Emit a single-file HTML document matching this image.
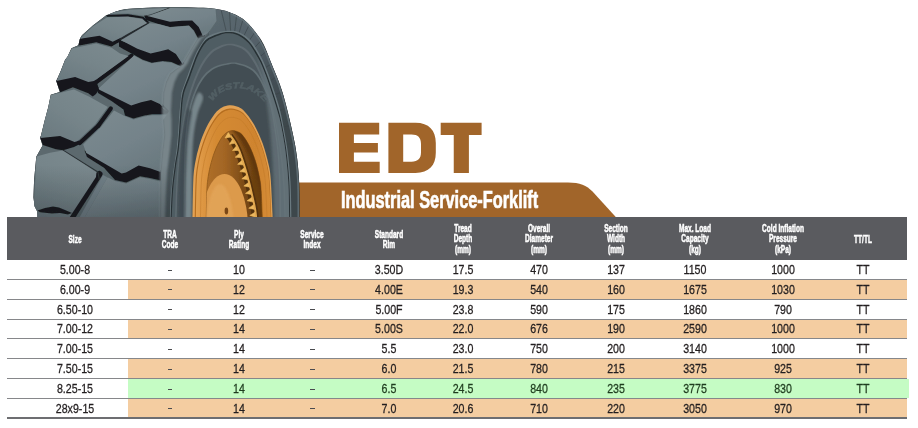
<!DOCTYPE html>
<html lang="en"><head><meta charset="utf-8"><title>EDT Industrial Service-Forklift</title>
<style>
html,body{margin:0;padding:0;background:#fff;overflow:hidden;}
body{width:918px;height:428px;position:relative;overflow:hidden;font-family:"Liberation Sans",sans-serif;}
#art{position:absolute;left:0;top:0;width:918px;height:428px;display:block;}
.hdr{position:absolute;left:7.0px;top:217.0px;width:900.0px;height:42.60000000000002px;background:#5a5b5f;}
.h{position:absolute;width:80px;margin-left:-40px;text-align:center;color:#fff;font-weight:bold;font-size:10.3px;line-height:10.6px;transform:scaleX(0.635);transform-origin:50% 50%;white-space:nowrap;-webkit-text-stroke:0.5px #fff;}
.ttl{position:absolute;left:341.2px;top:188.2px;color:#fff;font-weight:bold;font-size:23px;line-height:24px;white-space:nowrap;transform:scaleX(0.711);transform-origin:0 50%;-webkit-text-stroke:0.7px #fff;}
.d{position:absolute;width:80px;margin-left:-40px;text-align:center;color:#231f20;font-size:13.3px;line-height:16px;height:16px;transform:scaleX(0.8);transform-origin:50% 50%;white-space:nowrap;-webkit-text-stroke:0.3px #231f20;}
.ln{position:absolute;left:7.0px;width:900.0px;height:1.1px;background:#86878a;}
.bg{position:absolute;left:127.8px;width:779.2px;}
.dash{position:absolute;width:4.6px;height:1.3px;margin-left:-2.3px;background:#4a4b4f;}
</style></head><body>
<svg id="art" viewBox="0 0 918 428" width="918" height="428">
<defs>
<linearGradient id="gFace" x1="0.1" y1="0" x2="0.8" y2="1">
 <stop offset="0" stop-color="#7c8a8f"/><stop offset="0.55" stop-color="#74838a"/><stop offset="1" stop-color="#69787e"/>
</linearGradient>
<linearGradient id="gFaceL" x1="0.9" y1="0" x2="0.1" y2="1">
 <stop offset="0" stop-color="#7c8a8f"/><stop offset="0.5" stop-color="#76858a"/><stop offset="1" stop-color="#6a797f"/>
</linearGradient>
<linearGradient id="gShoulder" gradientUnits="userSpaceOnUse" x1="160" y1="0" x2="185" y2="0">
 <stop offset="0" stop-color="#6a7a80"/><stop offset="1" stop-color="#4b585d"/>
</linearGradient>
<linearGradient id="gRim" gradientUnits="userSpaceOnUse" x1="192" y1="0" x2="272" y2="0">
 <stop offset="0" stop-color="#e6a656"/><stop offset="0.14" stop-color="#dd9642"/><stop offset="0.3" stop-color="#d48a33"/><stop offset="0.8" stop-color="#cf842f"/><stop offset="1" stop-color="#d68d38"/>
</linearGradient>
<linearGradient id="gWell" gradientUnits="userSpaceOnUse" x1="205" y1="0" x2="255" y2="0">
 <stop offset="0" stop-color="#b0702a"/><stop offset="0.4" stop-color="#a26524"/><stop offset="0.75" stop-color="#7d4c16"/><stop offset="1" stop-color="#6a3f10"/>
</linearGradient>
<linearGradient id="gOuter" gradientUnits="userSpaceOnUse" x1="215" y1="5" x2="285" y2="125">
 <stop offset="0" stop-color="#5c6970"/><stop offset="0.35" stop-color="#55626a"/><stop offset="0.65" stop-color="#444f55"/><stop offset="1" stop-color="#3d474c"/>
</linearGradient>
<linearGradient id="gBot" x1="0" y1="0" x2="0" y2="1">
 <stop offset="0" stop-color="#1c2225" stop-opacity="0"/><stop offset="1" stop-color="#1c2225" stop-opacity="0.32"/>
</linearGradient>
<filter id="b0" x="-5%" y="-5%" width="110%" height="110%"><feGaussianBlur stdDeviation="0.6"/></filter>
<filter id="b1" x="-5%" y="-5%" width="110%" height="110%"><feGaussianBlur stdDeviation="0.8"/></filter>
<filter id="b2" x="-10%" y="-10%" width="120%" height="120%"><feGaussianBlur stdDeviation="1.6"/></filter>
<clipPath id="cTop"><rect x="0" y="0" width="918" height="217.2"/></clipPath>
</defs>
<path d="M290 182.5 L568 182.5 C580 182.5 586.5 185.5 592.5 191.5 L616 217.2 L290 217.2 Z" fill="#a1652a"/>
<g clip-path="url(#cTop)"><g filter="url(#b0)">
<clipPath id="cSil"><path d="M37.6 222.0 L37.3 211.5 L34.6 206.3 L33.5 197.5 L34.1 180.0 L36.3 156.8 L42.6 145.5 L40.3 138.3 L44.8 120.0 L48.3 107.0 L50.8 94.8 L59.8 92.0 L56.3 81.0 L60.7 71.0 L65.0 60.0 L67.6 56.5 L71.5 48.3 L78.4 45.3 L80.0 38.6 L82.0 35.2 L92.9 25.4 L106.0 15.5 L117.0 11.1 L117.0 11.1 C119.2 10.7 121.2 9.3 130.0 8.7 C138.8 8.1 156.2 7.3 170.0 7.3 C183.8 7.3 202.2 7.5 212.5 8.5 C222.8 9.5 226.5 11.2 232.0 13.3 C237.5 15.4 241.4 17.7 245.4 20.9 C249.4 24.1 252.9 28.8 255.9 32.7 C258.9 36.6 261.0 39.1 263.7 44.5 C266.4 49.9 269.3 58.2 272.0 65.0 C274.7 71.8 277.7 78.3 280.0 85.0 C282.3 91.7 283.5 95.1 286.0 105.0 C288.5 114.9 292.8 132.1 295.0 144.5 C297.2 156.9 298.2 166.6 299.0 179.5 C299.8 192.4 299.4 214.9 299.5 222.0 Z"/></clipPath>
<path d="M37.6 222.0 L37.3 211.5 L34.6 206.3 L33.5 197.5 L34.1 180.0 L36.3 156.8 L42.6 145.5 L40.3 138.3 L44.8 120.0 L48.3 107.0 L50.8 94.8 L59.8 92.0 L56.3 81.0 L60.7 71.0 L65.0 60.0 L67.6 56.5 L71.5 48.3 L78.4 45.3 L80.0 38.6 L82.0 35.2 L92.9 25.4 L106.0 15.5 L117.0 11.1 L117.0 11.1 C119.2 10.7 121.2 9.3 130.0 8.7 C138.8 8.1 156.2 7.3 170.0 7.3 C183.8 7.3 202.2 7.5 212.5 8.5 C222.8 9.5 226.5 11.2 232.0 13.3 C237.5 15.4 241.4 17.7 245.4 20.9 C249.4 24.1 252.9 28.8 255.9 32.7 C258.9 36.6 261.0 39.1 263.7 44.5 C266.4 49.9 269.3 58.2 272.0 65.0 C274.7 71.8 277.7 78.3 280.0 85.0 C282.3 91.7 283.5 95.1 286.0 105.0 C288.5 114.9 292.8 132.1 295.0 144.5 C297.2 156.9 298.2 166.6 299.0 179.5 C299.8 192.4 299.4 214.9 299.5 222.0 Z" fill="#15191b"/>
<g clip-path="url(#cSil)">
<path d="M165.0 222.0 C165.2 216.7 165.8 200.3 166.5 190.0 C167.2 179.7 167.9 169.2 169.0 160.0 C170.1 150.8 171.8 143.2 173.0 135.0 C174.2 126.8 175.2 118.2 176.0 111.0 C176.8 103.8 176.5 98.3 178.0 92.0 C179.5 85.7 182.8 78.7 185.0 73.0 C187.2 67.3 188.3 63.5 191.0 58.0 C193.7 52.5 197.2 46.3 201.0 40.0 C204.8 33.7 211.8 25.3 214.0 20.0 C216.2 14.7 211.5 9.2 214.5 8.0 C217.5 6.8 225.9 10.2 232.0 13.0 C238.1 15.8 245.8 19.7 251.0 25.0 C256.2 30.3 259.3 38.3 263.0 45.0 C266.7 51.7 270.0 58.3 273.0 65.0 C276.0 71.7 278.7 78.3 281.0 85.0 C283.3 91.7 284.5 95.1 287.0 105.0 C289.5 114.9 293.8 132.1 296.0 144.5 C298.2 156.9 299.2 166.6 300.0 179.5 C300.8 192.4 300.4 214.9 300.5 222.0 Z" fill="url(#gOuter)"/>
<path d="M226.8 33.8 L221.2 10.2" stroke="#3a4549" stroke-width="0.9" opacity="0.7"/>
<path d="M230.7 32.1 L229.3 8.1" stroke="#3a4549" stroke-width="0.9" opacity="0.7"/>
<path d="M234.6 32.4 L237.4 8.5" stroke="#3a4549" stroke-width="0.9" opacity="0.7"/>
<path d="M238.5 34.8 L245.4 11.4" stroke="#3a4549" stroke-width="0.9" opacity="0.7"/>
<path d="M242.3 39.1 L253.2 16.6" stroke="#3a4549" stroke-width="0.9" opacity="0.7"/>
<path d="M245.9 45.3 L260.6 24.0" stroke="#3a4549" stroke-width="0.9" opacity="0.7"/>
<path d="M249.2 53.3 L267.6 33.7" stroke="#3a4549" stroke-width="0.9" opacity="0.7"/>
<path d="M252.3 63.0 L273.9 45.3" stroke="#3a4549" stroke-width="0.9" opacity="0.7"/>
<path d="M255.0 74.2 L279.5 58.7" stroke="#3a4549" stroke-width="0.9" opacity="0.7"/>
<path d="M257.3 86.6 L284.3 73.7" stroke="#3a4549" stroke-width="0.9" opacity="0.7"/>
<path d="M259.2 100.1 L288.2 90.0" stroke="#3a4549" stroke-width="0.9" opacity="0.7"/>
<path d="M260.6 114.5 L291.1 107.3" stroke="#3a4549" stroke-width="0.9" opacity="0.7"/>
<path d="M261.5 129.5 L293.1 125.3" stroke="#3a4549" stroke-width="0.9" opacity="0.7"/>
<path d="M262.0 144.9 L293.9 143.8" stroke="#3a4549" stroke-width="0.9" opacity="0.7"/>
<path d="M169.0 222.0 C169.2 216.7 169.8 199.5 170.5 190.0 C171.2 180.5 172.6 171.7 173.5 165.0 C174.4 158.3 175.3 155.0 176.0 150.0 C176.7 145.0 176.9 141.5 177.4 135.0 C177.9 128.5 178.4 118.1 179.0 111.0 C179.6 103.9 179.6 98.6 181.0 92.4 C182.4 86.2 186.1 78.1 187.7 73.7 C189.3 69.3 189.2 69.3 190.5 65.8 C191.8 62.3 193.2 57.2 195.5 52.7 C197.8 48.2 200.5 42.3 204.0 39.0 C207.5 35.7 212.3 34.1 216.6 32.7 C220.9 31.3 225.8 30.8 229.7 30.8 C233.6 30.8 236.7 31.1 240.2 32.7 C243.7 34.3 247.6 37.3 250.7 40.6 C253.8 43.9 256.3 48.6 258.5 52.3 C260.7 56.0 262.2 58.9 264.0 63.0 C265.8 67.1 267.7 72.1 269.5 77.0 C271.3 81.9 273.0 87.3 274.7 92.5 C276.4 97.7 278.1 102.8 279.5 108.0 C280.9 113.2 281.7 117.0 283.0 124.0 C284.3 131.0 286.2 140.3 287.5 150.0 C288.8 159.7 289.8 170.0 290.5 182.0 C291.2 194.0 291.3 215.3 291.5 222.0 Z" fill="#6a797f"/>
<path d="M170.4 222.0 C170.7 216.7 171.2 199.5 171.9 190.0 C172.7 180.5 174.0 171.7 174.9 165.0 C175.8 158.3 176.8 155.0 177.4 150.0 C178.1 145.0 178.3 141.3 178.8 135.0 C179.3 128.7 179.8 119.2 180.4 112.3 C181.0 105.4 181.0 99.9 182.4 93.7 C183.8 87.5 187.5 79.4 189.1 75.0 C190.7 70.6 190.6 70.6 191.9 67.1 C193.2 63.6 194.7 58.5 196.9 54.0 C199.2 49.5 201.9 43.6 205.4 40.3 C208.9 37.0 214.2 35.4 218.0 34.0 C221.8 32.6 225.0 32.1 228.5 32.1 C232.0 32.1 235.5 32.4 239.0 34.0 C242.5 35.6 246.4 38.6 249.5 41.9 C252.6 45.2 255.1 49.9 257.3 53.6 C259.5 57.3 261.0 60.2 262.8 64.3 C264.6 68.4 266.5 73.4 268.3 78.3 C270.1 83.2 271.8 88.6 273.5 93.8 C275.2 99.0 276.9 104.3 278.3 109.3 C279.7 114.3 280.5 117.2 281.8 124.0 C283.1 130.8 285.1 140.3 286.3 150.0 C287.6 159.7 288.6 170.0 289.3 182.0 C290.0 194.0 290.1 215.3 290.3 222.0 Z" fill="#283034"/>
<path d="M171.6 222.0 C171.8 216.7 172.3 199.5 173.1 190.0 C173.8 180.5 175.2 171.7 176.1 165.0 C177.0 158.3 177.9 155.0 178.6 150.0 C179.2 145.0 179.5 141.1 180.0 135.0 C180.5 128.9 181.0 120.2 181.6 113.5 C182.2 106.8 182.2 101.1 183.6 94.9 C185.0 88.7 188.7 80.6 190.3 76.2 C191.9 71.8 191.8 71.8 193.1 68.3 C194.4 64.8 195.8 59.7 198.1 55.2 C200.3 50.7 203.1 44.8 206.6 41.5 C210.1 38.2 215.7 36.6 219.2 35.2 C222.7 33.8 224.4 33.3 227.5 33.3 C230.6 33.3 234.5 33.6 238.0 35.2 C241.5 36.8 245.4 39.8 248.5 43.1 C251.6 46.4 254.1 51.1 256.3 54.8 C258.5 58.5 260.0 61.4 261.8 65.5 C263.6 69.6 265.5 74.6 267.3 79.5 C269.1 84.4 270.8 89.8 272.5 95.0 C274.2 100.2 275.9 105.7 277.3 110.5 C278.7 115.3 279.5 117.4 280.8 124.0 C282.1 130.6 284.1 140.3 285.3 150.0 C286.6 159.7 287.6 170.0 288.3 182.0 C289.0 194.0 289.1 215.3 289.3 222.0 Z" fill="#505d63"/>
<path d="M175.0 222.0 C175.2 216.7 175.5 200.3 176.0 190.0 C176.5 179.7 177.1 170.0 178.0 160.0 C178.9 150.0 180.2 139.2 181.5 130.0 C182.8 120.8 184.2 112.5 186.0 105.0 C187.8 97.5 189.7 91.5 192.0 85.0 C194.3 78.5 197.0 71.5 200.0 66.0 C203.0 60.5 206.3 55.5 210.0 52.0 C213.7 48.5 218.0 46.3 222.0 45.0 C226.0 43.7 230.0 43.3 234.0 44.0 C238.0 44.7 242.3 46.0 246.0 49.0 C249.7 52.0 253.0 56.8 256.0 62.0 C259.0 67.2 261.5 73.7 264.0 80.0 C266.5 86.3 268.8 92.5 271.0 100.0 C273.2 107.5 275.1 115.0 277.0 125.0 C278.9 135.0 281.2 149.2 282.5 160.0 C283.8 170.8 284.4 179.7 285.0 190.0 C285.6 200.3 285.8 216.7 286.0 222.0 Z" fill="#5e6b71"/>
<path d="M176.5 222.0 C176.7 216.7 177.0 200.3 177.5 190.0 C178.0 179.7 178.6 170.0 179.5 160.0 C180.4 150.0 181.7 138.9 183.0 130.0 C184.3 121.1 185.8 113.8 187.5 106.5 C189.2 99.2 191.2 93.0 193.5 86.5 C195.8 80.0 198.5 73.0 201.5 67.5 C204.5 62.0 207.8 57.0 211.5 53.5 C215.2 50.0 220.0 47.8 223.5 46.5 C227.0 45.2 229.0 44.8 232.5 45.5 C236.0 46.2 240.8 47.5 244.5 50.5 C248.2 53.5 251.5 58.3 254.5 63.5 C257.5 68.7 260.0 75.2 262.5 81.5 C265.0 87.8 267.3 94.2 269.5 101.5 C271.7 108.8 273.6 115.2 275.5 125.0 C277.4 134.8 279.7 149.2 281.0 160.0 C282.3 170.8 282.9 179.7 283.5 190.0 C284.1 200.3 284.3 216.7 284.5 222.0 Z" fill="#4d595f"/>
<path d="M183.5 222.0 C183.6 215.0 183.6 192.0 183.8 180.0 C184.0 168.0 184.1 159.2 184.5 150.0 C184.9 140.8 185.6 132.5 186.5 125.0 C187.4 117.5 188.4 111.2 190.0 105.0 C191.6 98.8 193.7 93.0 196.0 88.0 C198.3 83.0 201.0 78.5 204.0 75.0 C207.0 71.5 210.3 68.9 214.0 67.0 C217.7 65.1 222.0 64.2 226.0 63.5 C230.0 62.8 233.3 62.0 238.0 63.0 C242.7 64.0 249.6 66.0 254.0 69.8 C258.4 73.6 261.5 79.5 264.5 85.6 C267.5 91.7 269.7 95.9 272.0 106.6 C274.3 117.3 277.1 136.9 278.5 150.0 C279.9 163.1 280.1 173.0 280.5 185.0 C280.9 197.0 280.9 215.8 281.0 222.0 Z" fill="#626f75"/>
<path d="M184.8 222.0 C184.9 215.0 184.9 192.0 185.1 180.0 C185.3 168.0 185.4 159.2 185.8 150.0 C186.2 140.8 186.9 132.3 187.8 125.0 C188.7 117.7 189.7 112.2 191.3 106.3 C192.9 100.3 195.0 94.3 197.3 89.3 C199.6 84.3 202.3 79.8 205.3 76.3 C208.3 72.8 211.6 70.2 215.3 68.3 C219.0 66.4 223.7 65.5 227.3 64.8 C230.9 64.1 232.5 63.2 236.7 64.3 C240.9 65.3 248.3 67.3 252.7 71.1 C257.1 74.9 260.2 80.8 263.2 86.9 C266.2 93.0 268.4 97.4 270.7 107.9 C273.0 118.4 275.8 137.2 277.2 150.0 C278.6 162.8 278.8 173.0 279.2 185.0 C279.6 197.0 279.6 215.8 279.7 222.0 Z" fill="#434e53"/>
<path d="M184.6 222.0 C184.7 215.0 184.8 192.0 185.0 180.0 C185.2 168.0 185.3 159.0 185.8 150.0 C186.3 141.0 187.0 133.0 188.0 126.0 C189.0 119.0 190.3 113.5 192.0 108.0 C193.7 102.5 196.2 94.7 198.0 93.0 C199.8 91.3 203.1 94.5 203.0 98.0 C202.9 101.5 199.0 108.3 197.5 114.0 C196.0 119.7 194.8 125.7 194.0 132.0 C193.2 138.3 192.8 144.0 192.5 152.0 C192.2 160.0 192.1 168.3 192.0 180.0 C191.9 191.7 191.8 215.0 191.8 222.0 Z" fill="#7a898f" opacity="0.95" filter="url(#b1)"/>
<path id="tp" d="M212.5 102 C217.5 92.5 227 88.2 238.5 88.2 C251 88.2 261 96 268.5 108" fill="none"/>
<text font-family="Liberation Sans, sans-serif" font-weight="bold" font-style="italic" font-size="8.6" fill="#5f6d73" stroke="#5f6d73" stroke-width="0.5" opacity="0.55" filter="url(#b0)"><textPath href="#tp" startOffset="0.5" textLength="61" lengthAdjust="spacingAndGlyphs">WESTLAKE</textPath></text>
<clipPath id="cRib"><path d="M171.6 222.0 C171.8 216.7 172.3 199.5 173.1 190.0 C173.8 180.5 175.2 171.7 176.1 165.0 C177.0 158.3 177.9 155.0 178.6 150.0 C179.2 145.0 179.5 141.1 180.0 135.0 C180.5 128.9 181.0 120.2 181.6 113.5 C182.2 106.8 182.2 101.1 183.6 94.9 C185.0 88.7 188.7 80.6 190.3 76.2 C191.9 71.8 191.8 71.8 193.1 68.3 C194.4 64.8 195.8 59.7 198.1 55.2 C200.3 50.7 203.1 44.8 206.6 41.5 C210.1 38.2 215.7 36.6 219.2 35.2 C222.7 33.8 224.4 33.3 227.5 33.3 C230.6 33.3 234.5 33.6 238.0 35.2 C241.5 36.8 245.4 39.8 248.5 43.1 C251.6 46.4 254.1 51.1 256.3 54.8 C258.5 58.5 260.0 61.4 261.8 65.5 C263.6 69.6 265.5 74.6 267.3 79.5 C269.1 84.4 270.8 89.8 272.5 95.0 C274.2 100.2 275.9 105.7 277.3 110.5 C278.7 115.3 279.5 117.4 280.8 124.0 C282.1 130.6 284.1 140.3 285.3 150.0 C286.6 159.7 287.6 170.0 288.3 182.0 C289.0 194.0 289.1 215.3 289.3 222.0 Z"/></clipPath>
<g clip-path="url(#cRib)"><path d="M258 55 L305 55 L305 222 L274 222 C274 160 270 105 258 55 Z" fill="#67767d" opacity="0.75" filter="url(#b2)"/></g>
<path d="M232.0 13.3 C234.2 14.6 241.4 17.7 245.4 20.9 C249.4 24.1 252.9 28.8 255.9 32.7 C258.9 36.6 261.0 39.1 263.7 44.5 C266.4 49.9 269.3 58.2 272.0 65.0 C274.7 71.8 277.7 78.3 280.0 85.0 C282.3 91.7 283.5 95.1 286.0 105.0 C288.5 114.9 292.8 132.1 295.0 144.5 C297.2 156.9 298.2 166.6 299.0 179.5 C299.8 192.4 299.4 214.9 299.5 222.0" fill="none" stroke="#6a7980" stroke-width="1.6" opacity="0.7" transform="translate(-1.2,0.3)"/>
<path d="M178 222 L179 180 L181.5 140 L187 108 L192 112 L187.5 142 L185.5 180 L185 222 Z" fill="#394348" opacity="0.55" filter="url(#b1)"/>
<path d="M30.0 222.0 L30.0 0.0 L216.5 0.0 L216.5 21.0 L208.5 35.0 L204.0 39.0 L195.5 52.7 L190.5 65.8 L187.7 73.7 L181.0 92.4 L179.0 111.0 L177.4 135.0 L176.0 150.0 L173.5 165.0 L170.5 190.0 L169.0 222.0 Z" fill="#5b696e"/>
<path d="M30.0 222.0 L30.0 0.0 L216.5 0.0 L216.5 21.0 L208.5 35.0 L204.0 39.0 L195.5 52.7 L190.5 65.8 L187.7 73.7 L181.0 92.4 L179.0 111.0 L177.4 135.0 L176.0 150.0 L173.5 165.0 L170.5 190.0 L169.0 222.0 Z" fill="none"/>
<path d="M210.0 31.0 L203.3 35.0 L197.5 38.5 L193.6 45.0 L190.0 51.0 L185.9 58.0 L182.4 64.0 L176.0 69.0 L170.0 73.7 L166.0 82.0 L163.4 92.4 L162.8 104.0 L162.4 111.0 L163.1 120.0 L164.3 135.0 L162.5 150.0 L160.5 172.0 L160.3 195.0 L160.0 222.0 L169.5 222.0 L170.8 195.0 L173.2 172.0 L176.5 150.0 L177.9 135.0 L178.9 120.0 L179.5 111.0 L180.3 104.0 L181.5 92.4 L185.2 82.0 L188.2 73.7 L189.9 69.0 L191.7 64.0 L194.0 58.0 L197.1 51.0 L200.8 45.0 L205.1 38.5 L209.0 35.0 L209.0 31.0 Z" fill="#4a565b"/>
<g filter="url(#b0)">
<path d="M143.0 13.0 L157.0 16.5 L170.0 19.5 L182.0 18.5 L194.0 18.5 L201.0 26.0 L205.0 36.0 L198.2 38.5 L194.0 30.6 L189.0 25.6 L182.0 26.0 L170.0 27.0 L157.0 23.6 L146.0 20.0 Z" fill="#15191b"/>
<path d="M106.0 15.0 L128.0 14.3 L143.4 16.8 L149.5 22.5 L147.0 23.5 L142.5 18.6 L128.0 16.4 L107.0 16.8 Z" fill="#15191b"/>
<path d="M78.4 39.0 L99.5 34.0 L112.7 40.0 L121.0 37.5 L121.0 41.5 L117.0 43.2 L111.6 46.6 L96.2 42.3 L82.0 45.0 L78.4 45.6 Z" fill="#15191b"/>
<path d="M119.0 40.0 L137.4 46.5 L150.6 51.5 L168.2 47.0 L177.0 52.0 L184.5 64.0 L180.3 66.0 L171.5 62.0 L162.7 61.0 L151.7 62.7 L142.9 59.8 L132.0 53.8 L124.0 49.5 L119.0 46.5 Z" fill="#15191b"/>
<path d="M55.5 79.0 L75.1 75.0 L88.3 80.0 L96.0 79.5 L99.0 89.5 L96.0 94.0 L92.7 96.4 L88.3 93.2 L72.9 87.2 L60.3 92.2 L56.0 81.5 Z" fill="#15191b"/>
<path d="M97.0 87.0 L117.0 96.5 L131.2 103.5 L151.0 98.0 L160.5 102.0 L169.0 111.0 L167.6 113.6 L160.9 114.2 L152.1 114.2 L144.4 115.4 L133.4 118.6 L125.0 115.4 L123.5 109.6 L111.5 100.9 L98.0 93.0 Z" fill="#15191b"/>
<path d="M39.5 136.0 L60.1 134.0 L74.5 140.0 L80.0 141.0 L80.0 144.0 L74.0 147.0 L63.0 150.3 L56.0 149.3 L42.8 145.0 Z" fill="#15191b"/>
<path d="M84.5 150.5 L104.0 161.3 L121.6 171.4 L138.6 163.6 L150.0 166.2 L161.0 170.5 L161.0 180.4 L150.0 178.0 L140.0 176.2 L126.2 182.5 L115.0 180.0 L104.0 167.8 L87.0 157.0 Z" fill="#15191b"/>
<path d="M37.5 210.6 L45.0 208.0 L53.0 206.4 L59.0 207.6 L65.0 210.0 L72.0 213.0 L68.0 214.5 L60.0 213.0 L52.0 213.4 L40.0 212.2 Z" fill="#15191b"/>
<path d="M148.4 22.8 L120.2 39.4" stroke="#262c2f" stroke-width="1.8" stroke-linecap="round"/>
<path d="M131.6 55.6 L95.6 82.6" stroke="#16191c" stroke-width="4.2" stroke-linecap="round"/>
<path d="M110.8 108.4 L98.3 125.7" stroke="#16191c" stroke-width="4.2" stroke-linecap="round"/>
<path d="M98.3 125.7 L79.8 143" stroke="#16191c" stroke-width="4.2" stroke-linecap="round"/>
<path d="M99.4 174 L71.4 218" stroke="#16191c" stroke-width="6.2" stroke-linecap="round"/>
<path d="M169 8 L148.5 16" stroke="#2f373a" stroke-width="1.3" stroke-linecap="round"/>
<path d="M103 175 L107.5 177.6 L82 222 L77 222 Z" fill="#73828a"/>
<path d="M62.7 150 L98 172 L99.4 180" fill="none" stroke="#2b3235" stroke-width="1.1"/>
</g>
<path d="M104.0 16.0 L112.5 12.5 L130.0 9.8 L168.0 8.0 L147.5 15.3 L143.5 15.8 L128.0 13.6 L108.0 14.0 Z" fill="url(#gFaceL)"/>
<path d="M150.0 15.3 L170.5 8.0 L184.0 8.2 L215.5 8.8 L216.5 21.0 L208.0 33.0 L202.8 36.0 L198.7 27.0 L192.2 20.6 L182.0 20.8 L170.0 21.8 L158.0 18.8 L146.5 15.8 Z" fill="url(#gFace)"/>
<path d="M80.3 38.8 L92.9 26.5 L107.2 17.2 L128.0 16.8 L142.0 19.0 L147.2 22.9 L125.9 34.5 L119.3 38.6 L112.7 41.8 L99.5 35.8 Z" fill="url(#gFaceL)"/>
<path d="M149.6 23.2 L158.0 24.0 L170.0 27.2 L182.0 26.2 L189.0 25.8 L193.5 30.7 L197.5 38.5 L190.0 51.0 L182.4 64.0 L175.9 54.1 L168.2 49.2 L159.4 51.4 L150.6 53.6 L137.4 48.7 L121.2 40.2 Z" fill="url(#gFace)"/>
<path d="M72.1 48.4 L96.2 43.4 L111.6 47.8 L120.0 53.5 L128.6 55.9 L94.0 80.9 L88.3 82.0 L75.1 77.0 L56.5 80.9 L61.0 71.0 L65.2 60.0 Z" fill="url(#gFaceL)"/>
<path d="M134.0 55.4 L142.9 60.4 L151.7 63.3 L162.7 61.7 L171.5 62.7 L180.3 66.5 L176.0 69.0 L170.0 73.7 L166.0 82.0 L163.4 92.4 L162.6 108.0 L167.4 111.6 L159.8 104.0 L151.0 100.1 L141.1 102.3 L131.2 105.6 L117.0 98.5 L99.4 89.7 L98.6 88.6 Z" fill="url(#gFace)"/>
<path d="M51.0 95.1 L74.0 89.6 L89.4 96.7 L107.8 107.0 L95.2 124.2 L77.2 141.2 L74.5 142.0 L60.1 136.1 L40.5 138.1 L44.8 120.0 L48.3 107.0 Z" fill="url(#gFaceL)"/>
<path d="M114.0 110.4 L124.0 115.7 L133.4 119.5 L144.4 116.5 L152.1 115.2 L160.9 115.2 L166.8 114.8 L163.2 120.0 L164.3 135.0 L162.5 150.0 L160.5 172.0 L150.0 168.2 L138.6 165.6 L126.0 172.5 L121.6 173.4 L104.0 163.3 L86.3 153.1 L83.2 144.6 L100.8 127.2 Z" fill="url(#gFace)"/>
<path d="M107.5 177.6 L108.5 177.8 L115.0 181.0 L126.2 183.5 L140.0 177.2 L150.0 179.0 L160.3 181.5 L160.0 222.0 L82.0 222.0 Z" fill="url(#gFace)"/>
<path d="M36.5 156.6 L50.0 152.7 L62.7 150.6 L80.0 161.4 L96.4 172.2 L96.0 177.0 L66.5 222.0 L33.0 222.0 Z" fill="url(#gFaceL)"/>
<path d="M37.5 210.6 L45.0 208.0 L53.0 206.4 L59.0 207.6 L65.0 210.0 L72.0 213.0 L68.0 214.5 L60.0 213.0 L52.0 213.4 L40.0 212.2 Z" fill="#15191b" filter="url(#b0)"/>
<path d="M209.5 31.0 L202.8 35.0 L197.0 38.5 L193.1 45.0 L189.5 51.0 L185.4 58.0 L181.9 64.0 L175.5 69.0 L169.5 73.7 L165.5 82.0 L162.9 92.4 L162.3 104.0 L161.9 111.0 L162.6 120.0 L163.8 135.0 L162.0 150.0 L160.0 172.0 L159.8 195.0 L159.5 222.0 L164.9 222.0 L165.8 195.0 L167.2 172.0 L169.9 150.0 L171.5 135.0 L171.5 120.0 L170.9 111.0 L171.3 104.0 L171.9 92.4 L174.5 82.0 L178.5 73.7 L183.4 69.0 L187.2 64.0 L190.1 58.0 L193.6 51.0 L197.3 45.0 L201.4 38.5 L206.2 35.0 L209.2 31.0 Z" fill="#849297" opacity="0.8" filter="url(#b1)"/>
<rect x="30" y="165" width="140" height="57" fill="url(#gBot)"/>
</g>
<path d="M192.3 224.0 C192.3 222.3 192.3 221.3 192.5 214.0 C192.7 206.7 192.9 188.5 193.3 180.0 C193.8 171.5 194.2 168.6 195.2 162.8 C196.2 157.0 197.6 151.1 199.4 145.3 C201.2 139.5 203.6 133.1 206.2 127.8 C208.8 122.5 212.2 117.2 214.8 113.8 C217.4 110.4 219.6 108.9 222.0 107.5 C224.4 106.1 227.1 105.5 229.4 105.3 C231.7 105.1 233.7 105.5 236.0 106.3 C238.3 107.1 240.4 107.3 243.4 110.3 C246.4 113.3 250.7 118.8 253.9 124.3 C257.1 129.8 260.2 136.9 262.7 143.6 C265.1 150.3 267.2 158.5 268.6 164.6 C270.0 170.7 270.2 171.8 270.8 180.0 C271.4 188.2 272.2 206.7 272.5 214.0 C272.8 221.3 272.6 222.3 272.6 224.0 Z" fill="#e2a153"/>
<path d="M194.6 224.2 C194.6 222.6 194.6 221.6 194.8 214.4 C195.0 207.3 195.1 189.6 195.6 181.3 C196.0 173.0 196.4 170.2 197.4 164.5 C198.4 158.9 199.6 153.2 201.4 147.5 C203.1 141.8 205.4 135.5 207.9 130.4 C210.3 125.3 213.6 120.1 216.1 116.8 C218.6 113.5 220.7 112.0 223.0 110.6 C225.3 109.2 227.8 108.7 230.0 108.5 C232.3 108.3 234.1 108.6 236.3 109.4 C238.6 110.3 240.6 110.4 243.4 113.3 C246.3 116.3 250.4 121.6 253.4 127.0 C256.5 132.4 259.5 139.3 261.8 145.8 C264.2 152.4 266.2 160.4 267.5 166.3 C268.8 172.2 269.0 173.3 269.6 181.3 C270.2 189.3 270.9 207.3 271.2 214.4 C271.5 221.6 271.3 222.6 271.3 224.2 Z" fill="#b56d1f"/>
<path d="M195.7 224.3 C195.8 222.7 195.8 221.7 195.9 214.6 C196.1 207.6 196.2 190.1 196.7 181.8 C197.1 173.6 197.5 170.8 198.4 165.2 C199.4 159.6 200.6 154.0 202.4 148.3 C204.1 142.7 206.3 136.5 208.7 131.4 C211.1 126.4 214.3 121.2 216.8 117.9 C219.2 114.7 221.2 113.2 223.5 111.9 C225.8 110.5 228.2 109.9 230.4 109.7 C232.6 109.5 234.4 109.9 236.6 110.7 C238.8 111.5 240.7 111.7 243.5 114.6 C246.3 117.5 250.3 122.7 253.3 128.1 C256.3 133.4 259.3 140.2 261.5 146.7 C263.8 153.2 265.8 161.1 267.1 167.0 C268.3 172.8 268.5 173.9 269.1 181.8 C269.7 189.8 270.4 207.6 270.7 214.6 C271.0 221.7 270.8 222.7 270.8 224.3 Z" fill="url(#gRim)"/>
<path d="M200.4 224.8 C200.4 223.3 200.4 222.3 200.5 215.7 C200.7 209.1 200.8 192.7 201.2 184.9 C201.6 177.2 201.9 174.6 202.8 169.4 C203.6 164.1 204.7 158.8 206.2 153.5 C207.8 148.3 209.8 142.5 211.9 137.7 C214.0 132.9 216.8 128.1 219.0 125.0 C221.2 122.0 223.0 120.6 225.0 119.3 C227.0 118.0 229.2 117.5 231.1 117.3 C233.1 117.2 234.7 117.5 236.6 118.2 C238.6 119.0 240.3 119.1 242.8 121.9 C245.2 124.6 248.8 129.5 251.5 134.5 C254.1 139.6 256.7 145.9 258.8 152.0 C260.8 158.1 262.6 165.5 263.7 171.0 C264.8 176.5 265.0 177.5 265.5 184.9 C266.0 192.4 266.7 209.1 266.9 215.7 C267.2 222.3 267.0 223.3 267.0 224.8 Z" fill="none" stroke="#c27a29" stroke-width="0.8" opacity="0.7"/>
<clipPath id="cWell"><path d="M206.2 225.6 C206.2 224.3 206.2 223.5 206.3 217.6 C206.4 211.7 206.6 197.2 206.9 190.4 C207.2 183.6 207.5 181.3 208.2 176.6 C208.9 172.0 209.9 167.3 211.2 162.6 C212.4 158.0 214.1 152.8 215.9 148.6 C217.7 144.4 220.1 140.1 221.9 137.4 C223.8 134.7 225.3 133.5 227.0 132.4 C228.7 131.3 230.5 130.8 232.2 130.6 C233.8 130.5 235.1 130.8 236.8 131.4 C238.4 132.1 239.9 132.2 242.0 134.6 C244.0 137.0 247.1 141.4 249.3 145.8 C251.6 150.3 253.8 155.9 255.5 161.3 C257.2 166.7 258.7 173.2 259.6 178.1 C260.5 182.9 260.7 183.8 261.1 190.4 C261.6 197.0 262.1 211.7 262.3 217.6 C262.5 223.5 262.4 224.3 262.4 225.6 Z"/></clipPath>
<path d="M206.2 225.6 C206.2 224.3 206.2 223.5 206.3 217.6 C206.4 211.7 206.6 197.2 206.9 190.4 C207.2 183.6 207.5 181.3 208.2 176.6 C208.9 172.0 209.9 167.3 211.2 162.6 C212.4 158.0 214.1 152.8 215.9 148.6 C217.7 144.4 220.1 140.1 221.9 137.4 C223.8 134.7 225.3 133.5 227.0 132.4 C228.7 131.3 230.5 130.8 232.2 130.6 C233.8 130.5 235.1 130.8 236.8 131.4 C238.4 132.1 239.9 132.2 242.0 134.6 C244.0 137.0 247.1 141.4 249.3 145.8 C251.6 150.3 253.8 155.9 255.5 161.3 C257.2 166.7 258.7 173.2 259.6 178.1 C260.5 182.9 260.7 183.8 261.1 190.4 C261.6 197.0 262.1 211.7 262.3 217.6 C262.5 223.5 262.4 224.3 262.4 225.6 Z" fill="url(#gWell)" stroke="#8f5818" stroke-width="0.8"/>
<g clip-path="url(#cWell)">
<path d="M228 125 L275 125 L275 224 L263 224 C263 190 253 150 228 125 Z" fill="#5e360c" opacity="0.8" filter="url(#b1)"/>
<ellipse cx="224.5" cy="228" rx="23.5" ry="54" fill="#dc9a4c"/>
<ellipse cx="220" cy="232" rx="14" ry="48" fill="#e3a65a" opacity="0.8" filter="url(#b1)"/>
<path d="M228.0 136.0 C228.8 137.1 231.0 139.9 232.5 142.5 C234.0 145.1 235.7 148.2 237.0 151.5 C238.3 154.8 239.4 158.4 240.6 162.0 C241.8 165.6 242.9 169.3 244.0 173.0 C245.1 176.7 246.0 180.0 247.0 184.0 C248.0 188.0 249.0 192.7 250.0 197.0 C251.0 201.3 252.1 205.5 252.8 210.0 C253.5 214.5 254.1 221.7 254.4 224.0" fill="none" stroke="#53300a" stroke-width="7" transform="translate(1.6,0)"/>
<path d="M231.3 136.9 L228.3 132.6 L225.0 138.0 Z M235.6 143.1 L232.7 138.9 L229.4 144.3 Z M238.9 150.4 L236.6 145.7 L232.5 150.6 Z M241.5 157.8 L239.8 152.9 L235.2 157.2 Z M243.9 165.1 L242.3 160.1 L237.6 164.3 Z M246.1 172.4 L244.6 167.4 L239.8 171.6 Z M248.1 179.8 L246.8 174.8 L241.8 178.8 Z M250.0 187.2 L248.8 182.2 L243.8 186.0 Z M251.7 194.6 L250.5 189.6 L245.5 193.4 Z M253.3 202.1 L252.3 197.0 L247.1 200.8 Z M254.9 209.5 L253.9 204.4 L248.7 208.2 Z M255.8 217.3 L255.3 212.1 L249.8 215.4 Z M256.7 224.8 L256.1 219.7 L250.7 222.9 Z " fill="#ecb85e" stroke="#ecb85e" stroke-width="0.6" stroke-linejoin="round"/>
<path d="M228.0 136.0 C228.8 137.1 231.0 139.9 232.5 142.5 C234.0 145.1 235.7 148.2 237.0 151.5 C238.3 154.8 239.4 158.4 240.6 162.0 C241.8 165.6 242.9 169.3 244.0 173.0 C245.1 176.7 246.0 180.0 247.0 184.0 C248.0 188.0 249.0 192.7 250.0 197.0 C251.0 201.3 252.1 205.5 252.8 210.0 C253.5 214.5 254.1 221.7 254.4 224.0" fill="none" stroke="#e2a850" stroke-width="2" transform="translate(2.4,-0.4)"/>
<ellipse cx="226.4" cy="211" rx="1.8" ry="3.4" fill="#7a4712"/>
</g>
</g></g>
<g fill="#a1652a">
<path d="M339 122.8 H379.2 V134.5 H353.9 V142.9 H377.9 V152.5 H353.9 V161.7 H379.7 V172.9 H339 Z"/>
<path fill-rule="evenodd" d="M388.4 122.8 H415.5 C429 122.8 435.8 130.5 435.8 143 V152.7 C435.8 165.2 429 172.9 415.5 172.9 H388.4 Z M403.2 134.5 V161.7 H411.5 C418 161.7 421 158.6 421 152.3 V143.9 C421 137.6 418 134.5 411.5 134.5 Z"/>
<path d="M440.7 122.8 H481.6 V135 H468.9 V172.9 H453.75 V135 H440.7 Z"/>
</g>
</svg>
<div class="hdr"></div>
<div class="ttl">Industrial Service-Forklift</div>
<div class="h" style="left:75.3px;top:234.80px">Size</div>
<div class="h" style="left:169.8px;top:229.50px">TRA<br>Code</div>
<div class="h" style="left:239.0px;top:229.50px">Ply<br>Rating</div>
<div class="h" style="left:312.3px;top:229.50px">Service<br>Index</div>
<div class="h" style="left:388.7px;top:229.50px">Standard<br>Rim</div>
<div class="h" style="left:463.3px;top:223.60px">Tread<br>Depth<br>(mm)</div>
<div class="h" style="left:538.5px;top:223.60px">Overall<br>Diameter<br>(mm)</div>
<div class="h" style="left:615.8px;top:223.60px">Section<br>Width<br>(mm)</div>
<div class="h" style="left:694.5px;top:223.60px">Max. Load<br>Capacity<br>(kg)</div>
<div class="h" style="left:782.6px;top:223.60px">Cold Inflation<br>Pressure<br>(kPa)</div>
<div class="h" style="left:862.5px;top:234.80px">TT/TL</div>
<div class="d" style="left:75.3px;top:261.85px">5.00-8</div>
<div class="dash" style="left:169.8px;top:270px"></div>
<div class="d" style="left:239.0px;top:261.85px">10</div>
<div class="dash" style="left:312.3px;top:270px"></div>
<div class="d" style="left:388.7px;top:261.85px">3.50D</div>
<div class="d" style="left:463.3px;top:261.85px">17.5</div>
<div class="d" style="left:538.5px;top:261.85px">470</div>
<div class="d" style="left:615.8px;top:261.85px">137</div>
<div class="d" style="left:694.5px;top:261.85px">1150</div>
<div class="d" style="left:782.6px;top:261.85px">1000</div>
<div class="d" style="left:862.5px;top:261.85px">TT</div>
<div class="bg" style="top:279.40px;height:19.85px;background:#f4cda1"></div>
<div class="d" style="left:75.3px;top:281.68px">6.00-9</div>
<div class="dash" style="left:169.8px;top:289px"></div>
<div class="d" style="left:239.0px;top:281.68px">12</div>
<div class="dash" style="left:312.3px;top:289px"></div>
<div class="d" style="left:388.7px;top:281.68px">4.00E</div>
<div class="d" style="left:463.3px;top:281.68px">19.3</div>
<div class="d" style="left:538.5px;top:281.68px">540</div>
<div class="d" style="left:615.8px;top:281.68px">160</div>
<div class="d" style="left:694.5px;top:281.68px">1675</div>
<div class="d" style="left:782.6px;top:281.68px">1030</div>
<div class="d" style="left:862.5px;top:281.68px">TT</div>
<div class="d" style="left:75.3px;top:301.53px">6.50-10</div>
<div class="dash" style="left:169.8px;top:309px"></div>
<div class="d" style="left:239.0px;top:301.53px">12</div>
<div class="dash" style="left:312.3px;top:309px"></div>
<div class="d" style="left:388.7px;top:301.53px">5.00F</div>
<div class="d" style="left:463.3px;top:301.53px">23.8</div>
<div class="d" style="left:538.5px;top:301.53px">590</div>
<div class="d" style="left:615.8px;top:301.53px">175</div>
<div class="d" style="left:694.5px;top:301.53px">1860</div>
<div class="d" style="left:782.6px;top:301.53px">790</div>
<div class="d" style="left:862.5px;top:301.53px">TT</div>
<div class="bg" style="top:319.10px;height:19.80px;background:#f4cda1"></div>
<div class="d" style="left:75.3px;top:321.35px">7.00-12</div>
<div class="dash" style="left:169.8px;top:329px"></div>
<div class="d" style="left:239.0px;top:321.35px">14</div>
<div class="dash" style="left:312.3px;top:329px"></div>
<div class="d" style="left:388.7px;top:321.35px">5.00S</div>
<div class="d" style="left:463.3px;top:321.35px">22.0</div>
<div class="d" style="left:538.5px;top:321.35px">676</div>
<div class="d" style="left:615.8px;top:321.35px">190</div>
<div class="d" style="left:694.5px;top:321.35px">2590</div>
<div class="d" style="left:782.6px;top:321.35px">1000</div>
<div class="d" style="left:862.5px;top:321.35px">TT</div>
<div class="d" style="left:75.3px;top:341.18px">7.00-15</div>
<div class="dash" style="left:169.8px;top:349px"></div>
<div class="d" style="left:239.0px;top:341.18px">14</div>
<div class="dash" style="left:312.3px;top:349px"></div>
<div class="d" style="left:388.7px;top:341.18px">5.5</div>
<div class="d" style="left:463.3px;top:341.18px">23.0</div>
<div class="d" style="left:538.5px;top:341.18px">750</div>
<div class="d" style="left:615.8px;top:341.18px">200</div>
<div class="d" style="left:694.5px;top:341.18px">3140</div>
<div class="d" style="left:782.6px;top:341.18px">1000</div>
<div class="d" style="left:862.5px;top:341.18px">TT</div>
<div class="bg" style="top:358.75px;height:19.80px;background:#f4cda1"></div>
<div class="d" style="left:75.3px;top:361.00px">7.50-15</div>
<div class="dash" style="left:169.8px;top:369px"></div>
<div class="d" style="left:239.0px;top:361.00px">14</div>
<div class="dash" style="left:312.3px;top:369px"></div>
<div class="d" style="left:388.7px;top:361.00px">6.0</div>
<div class="d" style="left:463.3px;top:361.00px">21.5</div>
<div class="d" style="left:538.5px;top:361.00px">780</div>
<div class="d" style="left:615.8px;top:361.00px">215</div>
<div class="d" style="left:694.5px;top:361.00px">3375</div>
<div class="d" style="left:782.6px;top:361.00px">925</div>
<div class="d" style="left:862.5px;top:361.00px">TT</div>
<div class="bg" style="top:379.05px;height:19.20px;width:781.4000000000001px;background:#c5fcc4"></div>
<div class="d" style="left:75.3px;top:380.80px">8.25-15</div>
<div class="dash" style="left:169.8px;top:389px"></div>
<div class="d" style="left:239.0px;top:380.80px;color:#1f3d1f;-webkit-text-stroke-color:#1f3d1f">14</div>
<div class="dash" style="left:312.3px;top:389px"></div>
<div class="d" style="left:388.7px;top:380.80px;color:#1f3d1f;-webkit-text-stroke-color:#1f3d1f">6.5</div>
<div class="d" style="left:463.3px;top:380.80px;color:#1f3d1f;-webkit-text-stroke-color:#1f3d1f">24.5</div>
<div class="d" style="left:538.5px;top:380.80px;color:#1f3d1f;-webkit-text-stroke-color:#1f3d1f">840</div>
<div class="d" style="left:615.8px;top:380.80px;color:#1f3d1f;-webkit-text-stroke-color:#1f3d1f">235</div>
<div class="d" style="left:694.5px;top:380.80px;color:#1f3d1f;-webkit-text-stroke-color:#1f3d1f">3775</div>
<div class="d" style="left:782.6px;top:380.80px;color:#1f3d1f;-webkit-text-stroke-color:#1f3d1f">830</div>
<div class="d" style="left:862.5px;top:380.80px;color:#1f3d1f;-webkit-text-stroke-color:#1f3d1f">TT</div>
<div class="bg" style="top:398.35px;height:19.85px;background:#f4cda1"></div>
<div class="d" style="left:75.3px;top:400.62px">28x9-15</div>
<div class="dash" style="left:169.8px;top:408px"></div>
<div class="d" style="left:239.0px;top:400.62px">14</div>
<div class="dash" style="left:312.3px;top:408px"></div>
<div class="d" style="left:388.7px;top:400.62px">7.0</div>
<div class="d" style="left:463.3px;top:400.62px">20.6</div>
<div class="d" style="left:538.5px;top:400.62px">710</div>
<div class="d" style="left:615.8px;top:400.62px">220</div>
<div class="d" style="left:694.5px;top:400.62px">3050</div>
<div class="d" style="left:782.6px;top:400.62px">970</div>
<div class="d" style="left:862.5px;top:400.62px">TT</div>
<div class="ln" style="top:278.85px"></div>
<div class="ln" style="top:298.70px"></div>
<div class="ln" style="top:318.55px"></div>
<div class="ln" style="top:338.35px"></div>
<div class="ln" style="top:358.20px"></div>
<div class="ln" style="top:378.00px"></div>
<div class="ln" style="top:397.80px"></div>
<div class="ln" style="top:417.30px;height:1.8px;background:#6d6e71"></div>
</body></html>
